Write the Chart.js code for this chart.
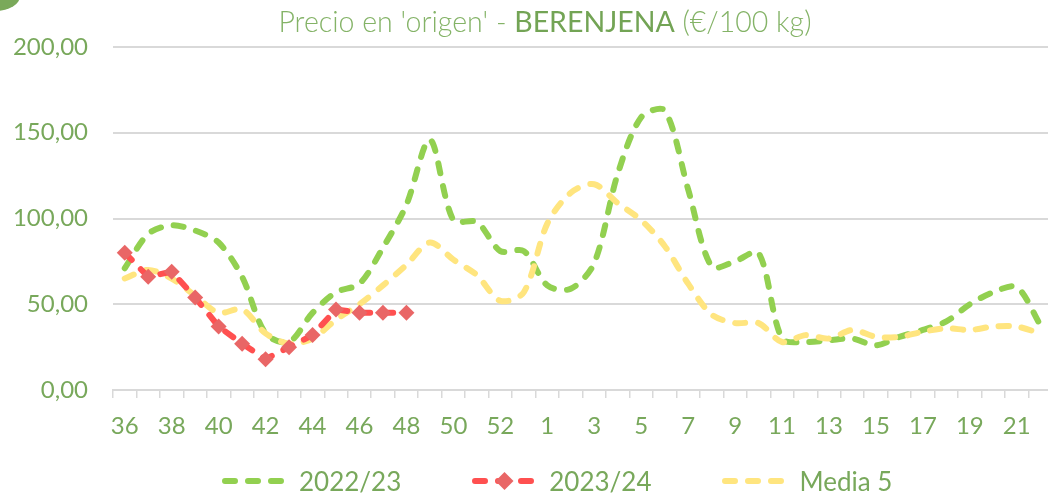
<!DOCTYPE html>
<html lang="es">
<head>
    <meta charset="UTF-8">
    <title>Precio en 'origen' - BERENJENA</title>
    <script src="https://cdn.jsdelivr.net/npm/chart.js@4"></script>
    <style>
        html, body { margin: 0; padding: 0; background: #fff; overflow: hidden; }
        body { width: 1048px; height: 496px; position: relative; font-family: Lato, sans-serif; }
        .corner { position: absolute; left: -4px; top: -4px; width: 24px; height: 15px; background: #7aa95a; border-bottom-right-radius: 24px 15px; }
        .chart-box { position: absolute; left: 0; top: 0; width: 1060px; height: 496px; }
        .title { position: absolute; left: 0; top: 4px; width: 1090px; text-align: center; font-size: 28.5px; font-weight: 300; color: #84b367; white-space: nowrap; }
        .title b { font-weight: 400; color: #73a455; }
        #legend { position: absolute; left: 222px; top: 465px; display: flex; align-items: center; }
        #legend .item { display: flex; align-items: center; margin-right: 71px; }
        #legend span { font-size: 26px; color: #78a85b; margin-left: 12px; }
    </style>
</head>
<body>
    <div class="corner"></div>
    <div class="chart-box"><canvas id="chartCanvas"></canvas></div>
    <div class="title">Precio en 'origen' - <b>BERENJENA</b> (€/100 kg)</div>
    <div id="legend"></div>
    <script>
        // weeks 36..53 then 1..22
        const weeks = ['36','37','38','39','40','41','42','43','44','45','46','47','48','49','50','51','52','53',
                       '1','2','3','4','5','6','7','8','9','10','11','12','13','14','15','16','17','18','19','20','21','22'];

        const campaign2223 = [71, 91, 96, 93, 86, 66, 33, 28, 45, 57, 62, 83, 108, 146, 99, 98, 81, 81,
                              61, 59, 74, 126, 159, 163, 117, 72, 75, 80, 30, 28, 29, 30, 26, 31, 35, 40, 50, 57, 60, 38];

        const campaign2324 = [80, 66, 69, 54, 37, 27, 18, 25, 32, 47, 45, 45, 45];

        const media5 = [65, 70, 65, 55, 45, 47, 33, 27, 30, 41, 50, 61, 73, 86, 76, 67, 52, 57,
                        97, 115, 120, 109, 99, 84, 62, 44, 39, 39, 28, 32, 30, 35, 31, 31, 34, 36, 35, 37, 37, 33];

        const yTicks = [0, 50, 100, 150, 200];

        const textColor = '#78a85b';
        const gridColor = '#d9d9d9';
        const dash = [10, 13];

        const ctx = document.getElementById('chartCanvas').getContext('2d');
        const chart = new Chart(ctx, {
            type: 'line',
            data: {
                labels: weeks,
                datasets: [
                    {
                        label: '2022/23',
                        data: campaign2223,
                        borderColor: '#92d050',
                        borderWidth: 6,
                        borderDash: dash,
                        borderCapStyle: 'round',
                        tension: 0.3,
                        pointRadius: 0,
                        order: 3
                    },
                    {
                        label: '2023/24',
                        data: campaign2324,
                        borderColor: '#ff5050',
                        borderWidth: 6,
                        borderDash: dash,
                        borderCapStyle: 'round',
                        tension: 0,
                        pointStyle: 'rectRot',
                        pointRadius: 8,
                        pointBorderWidth: 0,
                        pointBackgroundColor: '#e96666',
                        order: 1
                    },
                    {
                        label: 'Media 5',
                        data: media5,
                        borderColor: '#ffe57f',
                        borderWidth: 6,
                        borderDash: dash,
                        borderCapStyle: 'round',
                        tension: 0.3,
                        pointRadius: 0,
                        order: 2
                    }
                ]
            },
            options: {
                responsive: true,
                maintainAspectRatio: false,
                animation: false,
                layout: { padding: { top: 47, right: 7, bottom: 61, left: 0 } },
                plugins: {
                    legend: { display: false },
                    title: { display: false },
                    tooltip: { enabled: false }
                },
                scales: {
                    x: {
                        offset: true,
                        grid: {
                            offset: true,
                            drawOnChartArea: false,
                            drawTicks: true,
                            tickLength: 8,
                            color: gridColor,
                            lineWidth: 1.5
                        },
                        border: { display: true, color: gridColor, width: 2 },
                        ticks: {
                            autoSkip: false,
                            maxRotation: 0,
                            padding: 14,
                            color: textColor,
                            font: { family: 'Lato', size: 24 },
                            callback: function (value, index) {
                                return index % 2 === 0 ? this.getLabelForValue(value) : '';
                            }
                        },
                        afterFit: function (scale) { scale.height = 45; }
                    },
                    y: {
                        min: 0,
                        max: 200,
                        afterBuildTicks: function (scale) {
                            scale.ticks = yTicks.map(v => ({ value: v }));
                        },
                        grid: { color: gridColor, lineWidth: 2, drawTicks: false },
                        border: { display: false },
                        ticks: {
                            padding: 25,
                            color: textColor,
                            font: { family: 'Lato', size: 24 },
                            callback: v => v.toFixed(2).replace('.', ',')
                        },
                        afterFit: function (scale) { scale.width = 113; }
                    }
                }
            }
        });

        // html legend built from the datasets
        const legendBox = document.getElementById('legend');
        chart.data.datasets.forEach(function (ds) {
            const item = document.createElement('div');
            item.className = 'item';
            let svg = '<svg width="65" height="20" viewBox="0 0 65 20">' +
                '<line x1="3" y1="10" x2="63" y2="10" stroke="' + ds.borderColor + '" stroke-width="6" stroke-linecap="round" stroke-dasharray="' + dash.join(' ') + '"/>';
            if (ds.pointStyle === 'rectRot') {
                svg += '<polygon points="32.5,1 41.5,10 32.5,19 23.5,10" fill="' + ds.pointBackgroundColor + '"/>';
            }
            svg += '</svg>';
            item.innerHTML = svg + '<span>' + ds.label + '</span>';
            legendBox.appendChild(item);
        });
    </script>
</body>
</html>
